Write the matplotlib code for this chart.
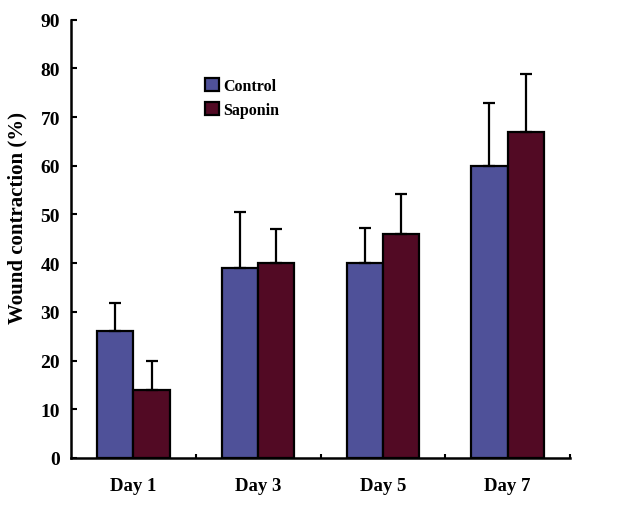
import numpy as np
import matplotlib.pyplot as plt

days = ['Day 1', 'Day 3', 'Day 5', 'Day 7']
control = [26, 39, 40, 60]
control_err = [5.8, 11.6, 7.2, 13.0]
saponin = [14, 40, 46, 67]
saponin_err = [5.9, 7.0, 8.3, 11.8]

plt.rcParams['font.family'] = 'Liberation Serif'
plt.rcParams['font.weight'] = 'bold'

fig = plt.figure(figsize=(6.41, 5.06), dpi=100)
ax = fig.add_axes([0.111, 0.093, 0.778, 0.866])

x = np.arange(len(days))
w = 0.29
ax.bar(x - w/2, control, w, color='#4f5199', edgecolor='black', linewidth=1.6,
       yerr=[np.zeros(4), control_err], error_kw=dict(ecolor='black', elinewidth=1.6, capsize=4, capthick=1.6),
       label='Control', zorder=2)
ax.bar(x + w/2, saponin, w, color='#520a24', edgecolor='black', linewidth=1.6,
       yerr=[np.zeros(4), saponin_err], error_kw=dict(ecolor='black', elinewidth=1.6, capsize=4, capthick=1.6),
       label='Saponin', zorder=2)

ax.set_xlim(-0.5, 3.5)
ax.set_ylim(0, 90)
ax.set_yticks(range(0, 91, 10))
ax.set_xticks(x)
ax.set_xticklabels(days, fontsize=13.5, fontweight='bold')
ax.set_xticks([0.5, 1.5, 2.5, 3.5], minor=True)
ax.tick_params(axis='x', which='major', length=0, pad=14)
ax.tick_params(axis='x', which='minor', direction='in', length=3, width=1.5)
ax.tick_params(axis='y', direction='in', length=4, width=1.5, labelsize=14, pad=8)
for lab in ax.get_yticklabels():
    lab.set_fontweight('bold')

ax.spines['top'].set_visible(False)
ax.spines['right'].set_visible(False)
ax.spines['left'].set_linewidth(1.8)
ax.spines['bottom'].set_linewidth(1.8)

ax.set_ylabel('Wound contraction (%)', fontsize=15, fontweight='bold')
ax.yaxis.set_label_coords(-0.088, 0.55)

ax.legend(loc='upper left', bbox_to_anchor=(0.24, 0.9), frameon=False,
          prop={'family': 'Liberation Serif', 'weight': 'bold', 'size': 11.5},
          handlelength=0.85, handleheight=0.85, handletextpad=0.3, labelspacing=0.5)

plt.savefig('out.png', dpi=100)
